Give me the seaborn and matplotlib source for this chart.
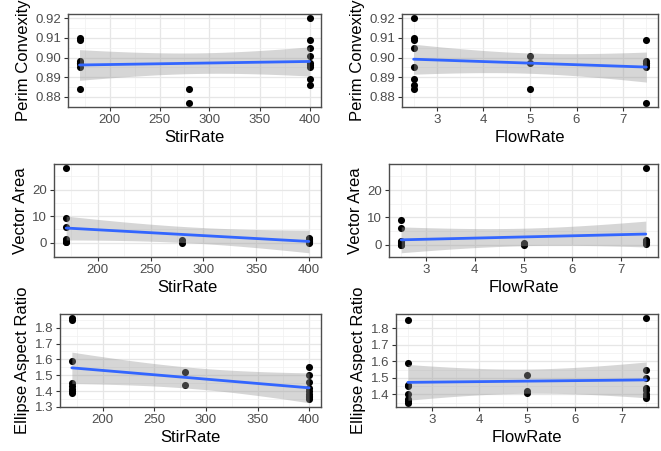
import math
import numpy as np
import pandas as pd
import matplotlib
matplotlib.use("Agg")
import matplotlib.pyplot as plt
from matplotlib.ticker import MultipleLocator, ScalarFormatter
import seaborn as sns

# Process runs: stirring rate, flow rate and the measured particle shape metrics
stir_rate = [170, 170, 170, 170, 170, 170, 170, 170,
             280, 280,
             400, 400, 400, 400, 400, 400, 400, 400, 400]
flow_rate = [2.5, 2.5, 2.5, 5, 7.5, 7.5, 7.5, 7.5,
             5, 7.5,
             2.5, 2.5, 2.5, 2.5, 2.5, 5, 7.5, 7.5, 7.5]
perim_convexity = [0.910, 0.909, 0.884, 0.897, 0.897, 0.897, 0.898, 0.895,
                   0.884, 0.877,
                   0.920, 0.905, 0.895, 0.889, 0.886, 0.901, 0.909, 0.897, 0.896]
vector_area = [9.2, 6.0, 1.5, 0.3, 28.0, 1.0, 0.2, 0.6,
               0.0, 1.0,
               0.5, 0.2, 0.1, 0.0, 0.9, 0.5, 1.8, 1.2, 1.5]
ellipse_aspect_ratio = [1.85, 1.59, 1.45, 1.41, 1.86, 1.43, 1.39, 1.40,
                        1.52, 1.44,
                        1.46, 1.40, 1.37, 1.35, 1.36, 1.42, 1.55, 1.50, 1.38]

df = pd.DataFrame({
    "StirRate": stir_rate,
    "FlowRate": flow_rate,
    "PerimConvexity": perim_convexity,
    "VectorArea": vector_area,
    "EllipseAspectRatio": ellipse_aspect_ratio,
})


def t_quantile(p, dof):
    """Student-t quantile by numerically integrating the density."""
    xs = np.linspace(0.0, 12.0, 240001)
    c = math.exp(math.lgamma((dof + 1) / 2) - math.lgamma(dof / 2)) / math.sqrt(dof * math.pi)
    pdf = c * (1 + xs ** 2 / dof) ** (-(dof + 1) / 2)
    cdf = 0.5 + np.concatenate([[0.0], np.cumsum((pdf[1:] + pdf[:-1]) / 2 * np.diff(xs))])
    return float(np.interp(p, cdf, xs))


def lm_band(x, y, level=0.95, n=80):
    """Least-squares line with its confidence band for the mean."""
    x = np.asarray(x, float)
    y = np.asarray(y, float)
    slope, intercept = np.polyfit(x, y, 1)
    resid = y - (intercept + slope * x)
    dof = len(x) - 2
    s = math.sqrt(np.sum(resid ** 2) / dof)
    sxx = np.sum((x - x.mean()) ** 2)
    grid = np.linspace(x.min(), x.max(), n)
    fit = intercept + slope * grid
    se = s * np.sqrt(1 / len(x) + (grid - x.mean()) ** 2 / sxx)
    tq = t_quantile(0.5 + level / 2, dof)
    return grid, fit - tq * se, fit + tq * se


sns.set_style("white")
plt.rcParams["font.family"] = ["Liberation Sans", "DejaVu Sans"]

W, H = 661, 451
fig = plt.figure(figsize=(W / 100, H / 100), dpi=100)
fig.patch.set_facecolor("white")

x_steps = {"StirRate": (50, 25), "FlowRate": (1, 0.5)}
y_steps = {"PerimConvexity": (0.01, 0.005), "VectorArea": (10, 5),
           "EllipseAspectRatio": (0.1, 0.05)}
y_titles = {"PerimConvexity": "Perim Convexity", "VectorArea": "Vector Area",
            "EllipseAspectRatio": "Ellipse Aspect Ratio"}

# panel boxes in pixels: left, top, right, bottom
panels = [
    ("StirRate", "PerimConvexity", (68, 14, 321, 107)),
    ("FlowRate", "PerimConvexity", (402, 14, 658, 107)),
    ("StirRate", "VectorArea", (54, 164, 321, 257)),
    ("FlowRate", "VectorArea", (389, 164, 658, 257)),
    ("StirRate", "EllipseAspectRatio", (60, 314, 321, 407)),
    ("FlowRate", "EllipseAspectRatio", (396, 314, 658, 407)),
]

for xcol, ycol, (l, t, r, b) in panels:
    ax = fig.add_axes([l / W, 1 - b / H, (r - l) / W, (b - t) / H])
    ax.set_facecolor("white")
    sns.regplot(data=df, x=xcol, y=ycol, ax=ax, ci=None,
                scatter_kws=dict(s=26, color="black", linewidths=0, alpha=1, zorder=1),
                line_kws=dict(color="#3366FF", lw=2.0, zorder=3))
    gx, lo, hi = lm_band(df[xcol], df[ycol])
    ax.fill_between(gx, lo, hi, color="#999999", alpha=0.4, linewidth=0, zorder=2)

    mx, mn = x_steps[xcol]
    ax.xaxis.set_major_locator(MultipleLocator(mx))
    ax.xaxis.set_minor_locator(MultipleLocator(mn))
    my, mny = y_steps[ycol]
    ax.yaxis.set_major_locator(MultipleLocator(my))
    ax.yaxis.set_minor_locator(MultipleLocator(mny))
    ax.yaxis.set_major_formatter(ScalarFormatter(useOffset=False))

    ax.set_axisbelow(True)
    ax.grid(which="major", color="#E6E6E6", lw=0.9)
    ax.grid(which="minor", color="#F0F0F0", lw=0.5)
    for sp in ax.spines.values():
        sp.set_color("#4D4D4D")
        sp.set_linewidth(1.0)
    ax.tick_params(which="major", length=3, width=0.8, color="#333333",
                   labelsize=9.5, labelcolor="#4D4D4D", pad=2, direction="out",
                   left=True, bottom=True)
    ax.tick_params(which="minor", length=0)
    ax.set_xlabel(xcol, fontsize=12, color="black", labelpad=3)
    ax.set_ylabel(y_titles[ycol], fontsize=12, color="black", labelpad=3)

fig.savefig("out.png", dpi=100, facecolor="white")
